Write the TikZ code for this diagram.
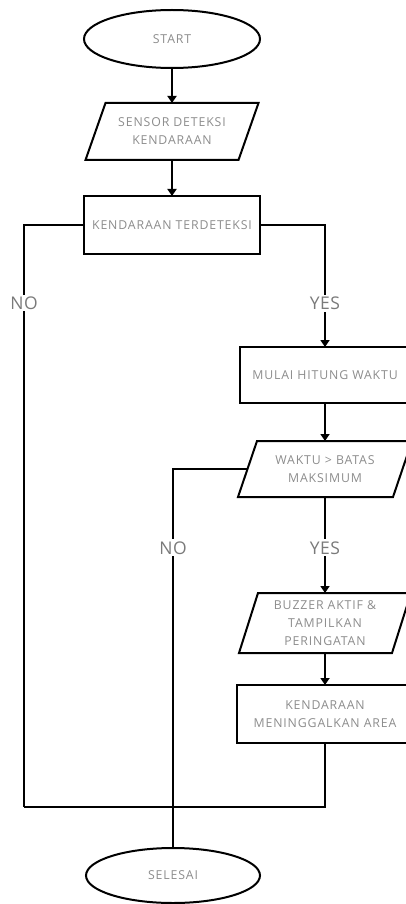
\documentclass[tikz,border=0pt]{standalone}
\usepackage{fontspec}
\setmainfont{Open Sans}[LetterSpace=7]
\newfontfamily\labfont{Open Sans}[LetterSpace=3]
\usetikzlibrary{arrows.meta,shapes.geometric,calc}
\definecolor{txtgray}{HTML}{8C8C8C}
\definecolor{labgray}{HTML}{7A7A7A}
\tikzset{
  every node/.style={inner sep=0pt, outer sep=0pt},
  line/.style={line width=2pt, black},
  arr/.style={line, -{Triangle[length=7pt,width=9pt]}},
  boxtext/.style={font=\fontsize{12.3}{18}\selectfont, text=txtgray, align=center},
  rectbox/.style={boxtext, draw, line width=2pt, minimum width=#1},
  ovalbox/.style={boxtext, ellipse, draw, line width=2pt},
  parabox/.style={boxtext},
  lab/.style={font=\labfont\fontsize{17.5}{18}\selectfont, text=labgray, fill=white, inner ysep=2pt}
}
\newcommand{\paraoutline}[2]{%
  \draw[line, line join=miter] ([xshift=#2]#1.north west) -- ([xshift=#2]#1.north east)
    -- ([xshift=-#2]#1.south east) -- ([xshift=-#2]#1.south west) -- cycle;}
\begin{document}
\begin{tikzpicture}[x=1pt,y=-1pt]
\clip (0,0) rectangle (406,904);
\useasboundingbox (0,0) rectangle (406,904);
% nodes
\node[ovalbox, minimum width=176pt, minimum height=58pt] (start) at (172,39) {START};
\node[parabox, minimum width=153pt, minimum height=57pt] (p1) at (172,131.5) {SENSOR DETEKSI\\KENDARAAN};
\paraoutline{p1}{10pt}
\node[rectbox=176pt, minimum height=58pt] (r1) at (172,225) {KENDARAAN TERDETEKSI};
\node[rectbox=170pt, minimum height=56pt] (r2) at (325,375) {MULAI HITUNG WAKTU};
\node[parabox, minimum width=155pt, minimum height=56pt] (p2) at (325,469) {WAKTU \textgreater{} BATAS\\MAKSIMUM};
\paraoutline{p2}{9.5pt}
\node[parabox, minimum width=153pt, minimum height=60pt] (p3) at (325,623) {BUZZER AKTIF \&\\TAMPILKAN\\PERINGATAN};
\paraoutline{p3}{9.5pt}
\node[rectbox=176pt, minimum height=58pt] (r3) at (325,714) {KENDARAAN\\MENINGGALKAN AREA};
\node[ovalbox, minimum width=174pt, minimum height=55pt] (end) at (173,875.5) {SELESAI};
% junction coordinates
\coordinate (j1) at (24,807);
\coordinate (j3) at (325,807);
% connectors
\draw[arr] (start) -- (p1);
\draw[arr] (p1) -- (r1);
\draw[line] (r1.west) -| node[lab, pos=0.567] {NO} (j1);
\draw[arr] (r1.east) -| node[lab, pos=0.82] {YES} (r2.north);
\draw[arr] (r2) -- (p2);
\draw[line] (p2.west) -| node[lab, pos=0.604] {NO} (end.north);
\draw[arr] (p2) -- node[lab, pos=0.53] {YES} (p3);
\draw[arr] (p3) -- (r3);
\draw[line] (r3.south) -- (j3) -- (j1);
\end{tikzpicture}
\end{document}
